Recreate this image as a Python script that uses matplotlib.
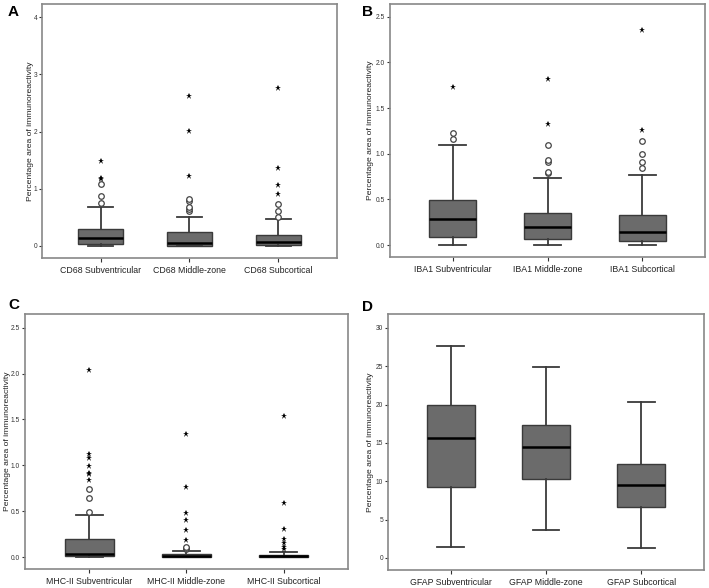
import matplotlib
matplotlib.use("Agg")
import matplotlib.pyplot as plt

plt.rcParams['font.family'] = ['Liberation Sans', 'DejaVu Sans']

# ---- Data ----
cd68_labels = ["CD68 Subventricular", "CD68 Middle-zone", "CD68 Subcortical"]
cd68_q1 = [0.04, 0.005, 0.02]
cd68_med = [0.146, 0.06, 0.065]
cd68_q3 = [0.30, 0.245, 0.20]
cd68_lo = [0.0, 0.0, 0.0]
cd68_hi = [0.69, 0.50, 0.47]
cd68_circles = [[0.757, 0.88, 1.077], [0.605, 0.64, 0.675, 0.79, 0.815], [0.50, 0.62, 0.73]]
cd68_stars = [[1.17, 1.19, 1.48], [1.22, 2.01, 2.63], [0.91, 1.06, 1.37, 2.76]]

iba1_labels = ["IBA1 Subventricular", "IBA1 Middle-zone", "IBA1 Subcortical"]
iba1_q1 = [0.09, 0.069, 0.044]
iba1_med = [0.285, 0.193, 0.146]
iba1_q3 = [0.49, 0.354, 0.328]
iba1_lo = [0.0, 0.0, 0.0]
iba1_hi = [1.095, 0.737, 0.766]
iba1_circles = [[1.165, 1.23], [0.79, 0.805, 0.91, 0.934, 1.10], [0.843, 0.912, 0.993, 1.135]]
iba1_stars = [[1.73], [1.33, 1.82], [1.263, 2.35]]

mhc_labels = ["MHC-II Subventricular", "MHC-II Middle-zone", "MHC-II Subcortical"]
mhc_q1 = [0.007, 0.0, 0.0]
mhc_med = [0.033, 0.015, 0.01]
mhc_q3 = [0.20, 0.033, 0.025]
mhc_lo = [0.0, 0.0, 0.0]
mhc_hi = [0.46, 0.07, 0.055]
mhc_circles = [[0.49, 0.64, 0.74], [0.085, 0.10, 0.11], []]
mhc_stars = [[0.84, 0.91, 0.92, 0.99, 1.08, 1.12, 2.04],
             [0.19, 0.30, 0.40, 0.48, 0.76, 1.34],
             [0.09, 0.105, 0.15, 0.20, 0.31, 0.59, 1.535]]

gfap_labels = ["GFAP Subventricular", "GFAP Middle-zone", "GFAP Subcortical"]
gfap_q1 = [9.26, 10.3, 6.7]
gfap_med = [15.6, 14.5, 9.57]
gfap_q3 = [19.9, 17.35, 12.3]
gfap_lo = [1.43, 3.65, 1.35]
gfap_hi = [27.6, 24.9, 20.35]
gfap_circles = [[], [], []]
gfap_stars = [[], [], []]

panels = [
    ("A", cd68_labels, cd68_q1, cd68_med, cd68_q3, cd68_lo, cd68_hi, cd68_circles, cd68_stars,
     [0, 1, 2, 3, 4], ["0", "1", "2", "3", "4"], (-0.21, 4.23)),
    ("B", iba1_labels, iba1_q1, iba1_med, iba1_q3, iba1_lo, iba1_hi, iba1_circles, iba1_stars,
     [0, 0.5, 1.0, 1.5, 2.0, 2.5], ["0.0", "0.5", "1.0", "1.5", "2.0", "2.5"], (-0.13, 2.64)),
    ("C", mhc_labels, mhc_q1, mhc_med, mhc_q3, mhc_lo, mhc_hi, mhc_circles, mhc_stars,
     [0, 0.5, 1.0, 1.5, 2.0, 2.5], ["0.0", "0.5", "1.0", "1.5", "2.0", "2.5"], (-0.13, 2.65)),
    ("D", gfap_labels, gfap_q1, gfap_med, gfap_q3, gfap_lo, gfap_hi, gfap_circles, gfap_stars,
     [0, 5, 10, 15, 20, 25, 30], ["0", "5", "10", "15", "20", "25", "30"], (-1.57, 31.8)),
]

# axes rectangles in figure pixels: (left, top, right, bottom)
W, H = 709, 588
rects = [(42, 4, 337, 258), (390, 4, 705, 257), (25, 314, 348, 569), (388, 314, 704, 570)]
letter_pos = [(8, 12), (362, 12), (8, 305), (362, 307)]
ylabel_x = [34, 374, 11, 374]

fig = plt.figure(figsize=(W / 100, H / 100), dpi=100)
fig.patch.set_facecolor("white")

box_face = "#6b6b6b"
edge = "#3a3a3a"
frame = "#888888"

for (letter, labels, q1, med, q3, lo, hi, circ, stars, ticks, ticklabels, ylim), (l, t, r, b), (lx, ly), yx in zip(panels, rects, letter_pos, ylabel_x):
    ax = fig.add_axes([l / W, 1 - b / H, (r - l) / W, (b - t) / H])
    stats = []
    for i in range(3):
        stats.append(dict(med=med[i], q1=q1[i], q3=q3[i], whislo=lo[i], whishi=hi[i], fliers=[], label=labels[i]))
    pos = [1, 2, 3]
    ax.bxp(stats, positions=pos, widths=0.5, capwidths=0.28, showfliers=False, patch_artist=True,
           boxprops=dict(facecolor=box_face, edgecolor=edge, linewidth=1.0),
           whiskerprops=dict(color=edge, linewidth=1.3),
           capprops=dict(color=edge, linewidth=1.3),
           medianprops=dict(color="black", linewidth=1.8))
    for i in range(3):
        if circ[i]:
            ax.plot([pos[i]] * len(circ[i]), circ[i], linestyle="none", marker="o", markersize=4,
                    markerfacecolor="white", markeredgecolor="#444444", markeredgewidth=0.9)
        if stars[i]:
            ax.plot([pos[i]] * len(stars[i]), stars[i], linestyle="none", marker="*", markersize=4.5,
                    color="black", markeredgewidth=0)
    ax.set_xlim(0.34, 3.66)
    ax.set_ylim(*ylim)
    ax.set_yticks(ticks)
    ax.set_yticklabels(ticklabels)
    ax.set_xticks(pos)
    ax.set_xticklabels(labels)
    ax.tick_params(axis="y", labelsize=4.8, length=2.5, width=0.8, color="#333333", pad=1, labelcolor="#333333")
    ax.tick_params(axis="x", labelsize=6.3, length=3, width=0.8, color="#333333", pad=3, labelcolor="#222222")
    ax.set_ylabel("Percentage area of immunoreactivity", fontsize=6.1, color="#222222")
    ax.yaxis.set_label_coords((yx - l) / (r - l), 0.5)
    for s in ax.spines.values():
        s.set_color(frame)
        s.set_linewidth(1.2)
    fig.text(lx / W, 1 - ly / H, letter, fontsize=11, fontweight="bold", ha="left", va="center", color="black")

fig.savefig("out.png", dpi=100, facecolor="white")
